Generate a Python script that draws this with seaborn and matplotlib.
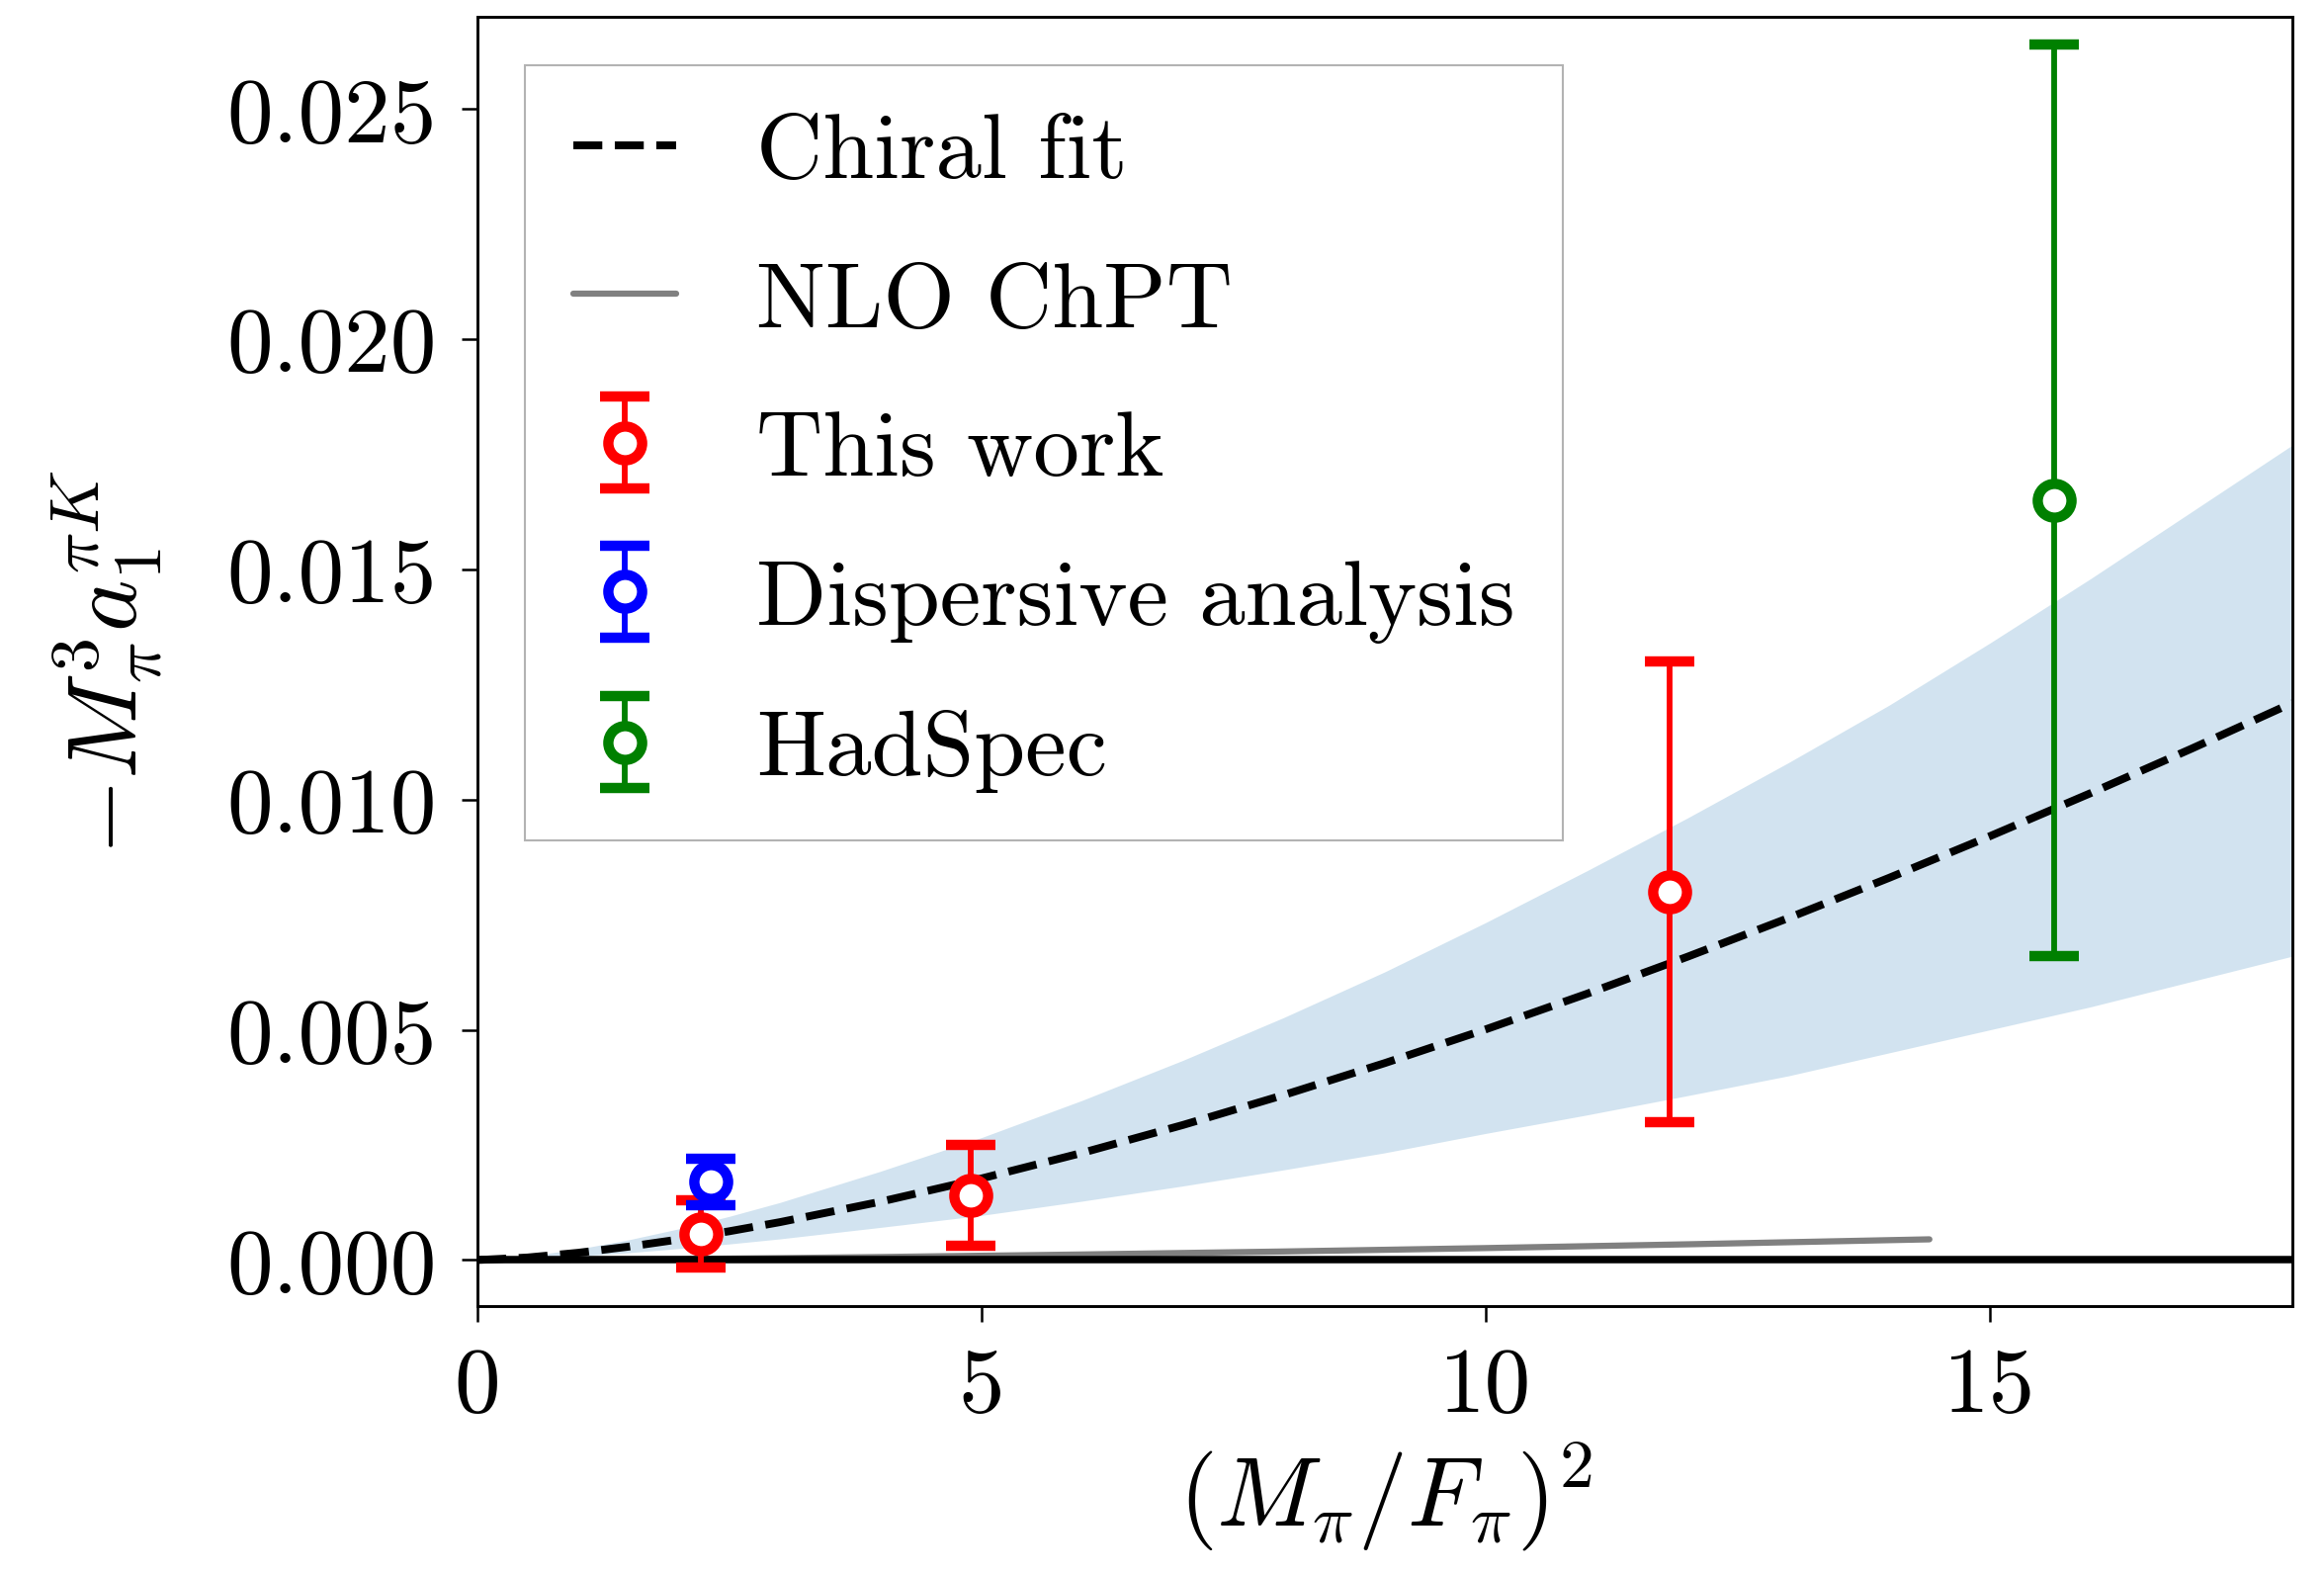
import numpy as np
import pandas as pd
import matplotlib
matplotlib.use("Agg")
import matplotlib.pyplot as plt
from matplotlib.ticker import FormatStrFormatter
import seaborn as sns

# ---------------- data ----------------
fit_x = [0, 0.5, 1, 1.5, 2, 2.5, 3, 4, 5, 6, 7, 8, 9, 10, 11, 12, 13, 14, 15, 16, 17, 18]
fit_y = [0, 0.000056, 0.000158, 0.000291, 0.000448, 0.000626, 0.000823, 0.001268,
         0.001772, 0.002329, 0.002935, 0.003586, 0.004278, 0.005010, 0.005780,
         0.006586, 0.007426, 0.008300, 0.009205, 0.010141, 0.011106, 0.012100]
band_hi = [0, 0.000085, 0.00024, 0.00044, 0.00068, 0.00095, 0.00125, 0.00193, 0.00266,
           0.00347, 0.00434, 0.00527, 0.00626, 0.00733, 0.00845, 0.00960, 0.01080,
           0.01205, 0.01340, 0.01480, 0.01625, 0.01770]
band_lo = [0, 0.000031, 0.000087, 0.00016, 0.00025, 0.00035, 0.00046, 0.00071, 0.00097,
           0.00128, 0.00161, 0.00196, 0.00233, 0.00275, 0.00315, 0.00357, 0.00400,
           0.00450, 0.00500, 0.00550, 0.00605, 0.00660]

nlo_x = [0, 1, 2, 3, 4, 6, 8, 10, 12, 14.4]
nlo_y = [0, 0.000008, 0.000023, 0.000042, 0.000066, 0.000121, 0.000186, 0.000260,
         0.000342, 0.000450]

work_x = [2.22, 4.89, 11.82]
work_y = [0.00057, 0.0014, 0.0080]
work_err = [0.00073, 0.0011, 0.0050]

disp_x = [2.31]
disp_y = [0.0017]
disp_err = [0.0005]

had_x = [15.64]
had_y = [0.0165]
had_err = [0.0099]

x_ticks = [0, 5, 10, 15]
y_ticks = [0.000, 0.005, 0.010, 0.015, 0.020, 0.025]

# ---------------- style ----------------
sns.set_style("ticks")
plt.rcParams["font.family"] = "serif"
plt.rcParams["font.serif"] = ["cmr10", "DejaVu Serif"]
plt.rcParams["mathtext.fontset"] = "cm"
plt.rcParams["axes.formatter.use_mathtext"] = True
plt.rcParams["axes.unicode_minus"] = False
for k in ["text.color", "axes.labelcolor", "xtick.color", "ytick.color", "axes.edgecolor"]:
    plt.rcParams[k] = "black"

FS = 22.4
DPI = 300
fig = plt.figure(figsize=(2351 / DPI, 1593 / DPI), dpi=DPI)
ax = fig.add_axes([0.2054, 0.1701, 0.7810, 0.8186])

fit_df = pd.DataFrame({"x": fit_x, "y": fit_y, "lo": band_lo, "hi": band_hi})
nlo_df = pd.DataFrame({"x": nlo_x, "y": nlo_y})

ax.fill_between(fit_df["x"], fit_df["lo"], fit_df["hi"], color="C0", alpha=0.2,
                linewidth=0, zorder=1)
sns.lineplot(data=fit_df, x="x", y="y", ax=ax, color="black", linestyle="--",
             linewidth=1.9, label="Chiral fit", zorder=3)
sns.lineplot(data=nlo_df, x="x", y="y", ax=ax, color="gray", linestyle="-",
             linewidth=1.5, label="NLO ChPT", zorder=2)
ax.axhline(0, color="black", linewidth=1.8, zorder=2.5)

eb_kw = dict(fmt="o", mfc="white", ms=8.2, mew=2.5, elinewidth=1.4,
             capsize=6, capthick=2.6, zorder=5)
ax.errorbar(work_x, work_y, yerr=work_err, color="red", mec="red",
            label="This work", **eb_kw)
ax.errorbar(disp_x, disp_y, yerr=disp_err, color="blue", mec="blue",
            label="Dispersive analysis", **eb_kw)
ax.errorbar(had_x, had_y, yerr=had_err, color="green", mec="green",
            label="HadSpec", **eb_kw)

ax.set_xlim(0, 18)
ax.set_ylim(-0.001, 0.027)
ax.set_xticks(x_ticks)
ax.set_yticks(y_ticks)
ax.yaxis.set_major_formatter(FormatStrFormatter("%.3f"))
ax.xaxis.set_major_formatter(FormatStrFormatter("%d"))
ax.tick_params(axis="both", which="major", labelsize=FS, length=3.8, width=0.6,
               pad=6, direction="out", top=False, right=False)
for s in ax.spines.values():
    s.set_linewidth(0.7)
    s.set_visible(True)

ax.set_xlabel(r"$(M_\pi/F_\pi)^2$", fontsize=FS * 1.07, labelpad=2.5)
ax.set_ylabel(r"$-M_\pi^3 a_1^{\pi K}$", fontsize=FS * 1.07, labelpad=15)

leg = ax.legend(loc="upper left", fontsize=FS, handlelength=1.12, handletextpad=0.86,
                labelspacing=0.72, borderpad=0.52, borderaxespad=0.52,
                fancybox=False, framealpha=1, edgecolor="0.7")
leg.get_frame().set_linewidth(0.5)

fig.savefig("out.png", dpi=DPI)
